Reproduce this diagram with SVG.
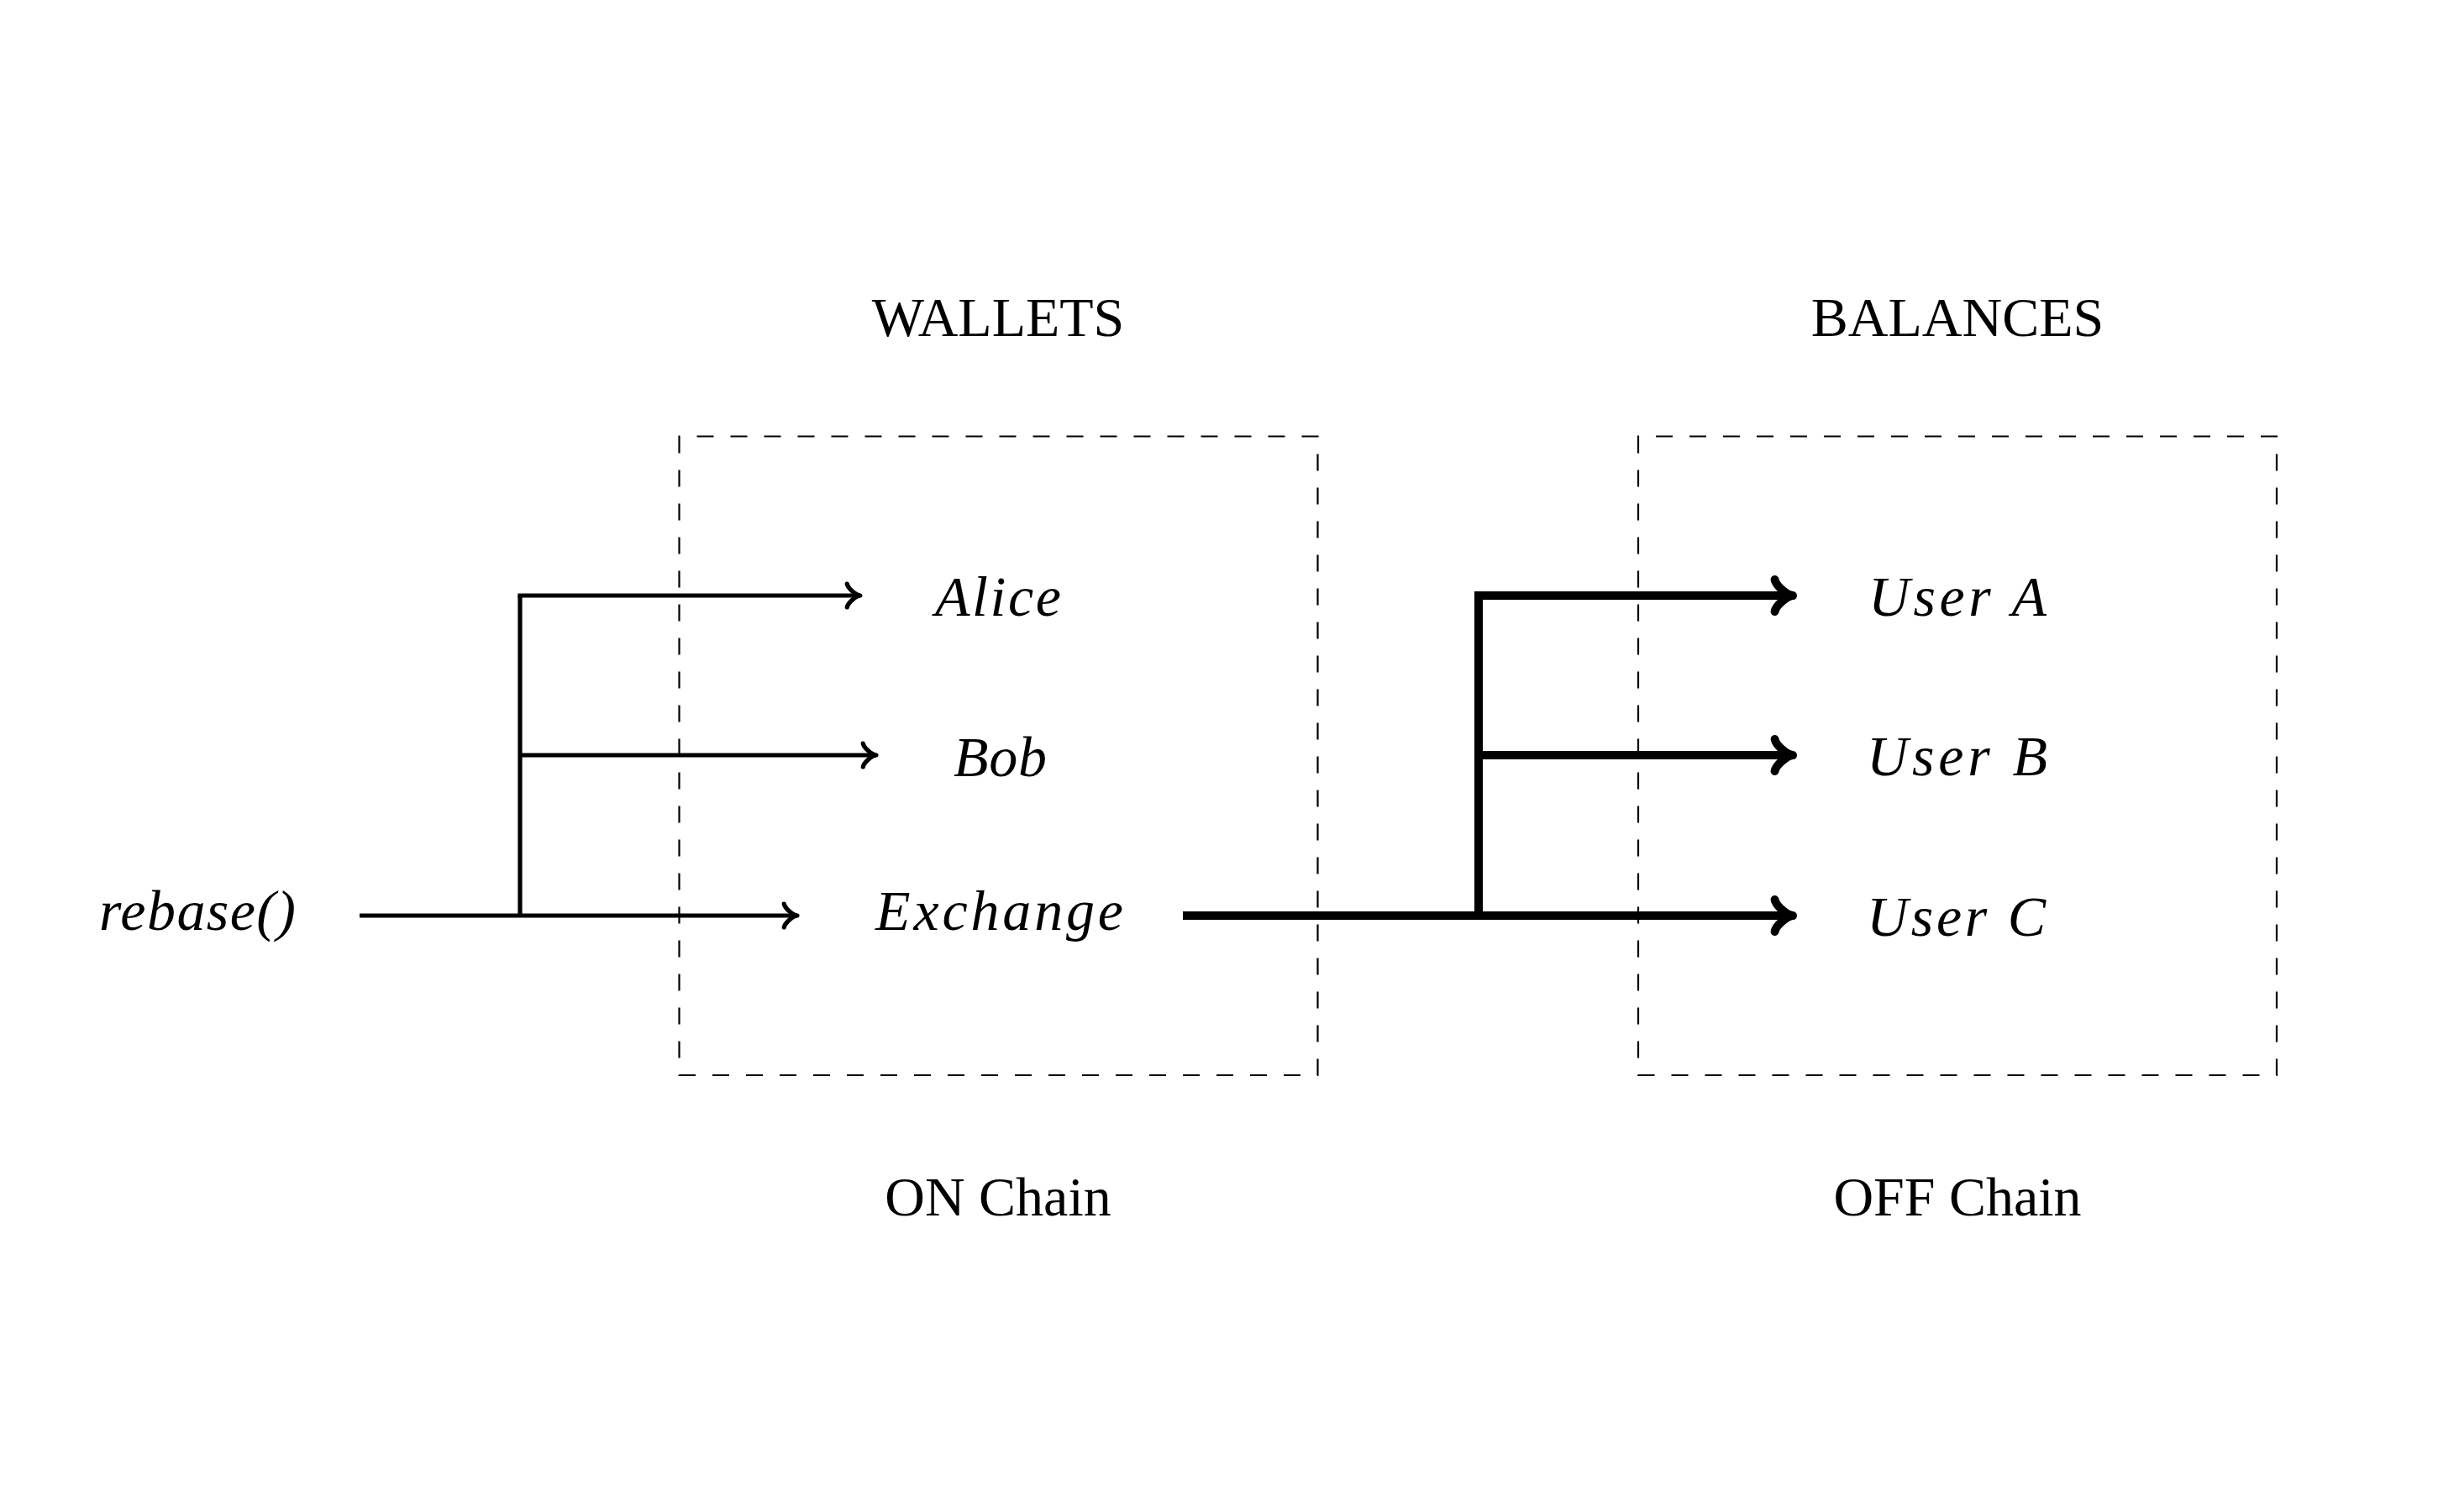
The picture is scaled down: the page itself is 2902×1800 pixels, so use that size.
<svg xmlns="http://www.w3.org/2000/svg" width="2902" height="1800" viewBox="0 0 2902 1800">
<style>
.bg{fill:#fff}
.box{fill:none;stroke:#000;stroke-width:2.2;stroke-dasharray:20 20}
.title{font-family:"Liberation Serif","Times New Roman",serif;font-size:66px;fill:#000;text-anchor:middle}
.math{font-family:"Liberation Serif","Times New Roman",serif;font-style:italic;font-size:68px;fill:#000}
.thin{fill:none;stroke:#000;stroke-width:5.2}
.thick{fill:none;stroke:#000;stroke-width:10}
</style>
<defs>
<marker id="arrThin" markerUnits="userSpaceOnUse" viewBox="-30 -30 40 60" markerWidth="40" markerHeight="60" refX="0" refY="0" orient="auto" overflow="visible">
<path d="M-15.75,-14 C-14.9,-8.75 -5.25,-0.44 0,0 C-5.25,0.44 -14.9,8.75 -15.75,14" fill="none" stroke="#000" stroke-width="5.2" stroke-linecap="round" stroke-linejoin="round"/>
</marker>
<marker id="arrThick" markerUnits="userSpaceOnUse" viewBox="-40 -40 50 80" markerWidth="50" markerHeight="80" refX="0" refY="0" orient="auto" overflow="visible">
<path d="M-21.4,-19 C-20.2,-11.9 -7.1,-0.6 0,0 C-7.1,0.6 -20.2,11.9 -21.4,19" fill="none" stroke="#000" stroke-width="10" stroke-linecap="round" stroke-linejoin="round"/>
</marker>
</defs>
<rect class="bg" x="0" y="0" width="2902" height="1800"/>

<g id="wallets">
<text class="title" x="1188" y="400">WALLETS</text>
<path class="box" d="M808.5,519.5 V1280 H1568.5 V519.5 Z"/>
<text class="title" x="1188" y="1447">ON Chain</text>
</g>
<g id="balances">
<text class="title" x="2330" y="400">BALANCES</text>
<path class="box" d="M1950,519.5 V1280 H2710 V519.5 Z"/>
<text class="title" x="2330" y="1447">OFF Chain</text>
</g>

<g id="rebase"><text class="math" x="118" y="1107" textLength="234" lengthAdjust="spacing">rebase()</text></g>
<g id="alice"><text class="math" x="1113" y="733" textLength="150" lengthAdjust="spacing">Alice</text></g>
<g id="bob"><text class="math" x="1135" y="924" textLength="111" lengthAdjust="spacing">Bob</text></g>
<g id="exchange"><text class="math" x="1042" y="1107" textLength="295" lengthAdjust="spacing">Exchange</text></g>
<g id="userA"><text class="math" x="2224" y="733" textLength="212" lengthAdjust="spacing">User A</text></g>
<g id="userB"><text class="math" x="2222" y="923" textLength="215" lengthAdjust="spacing">User B</text></g>
<g id="userC"><text class="math" x="2222" y="1114" textLength="213" lengthAdjust="spacing">User C</text></g>

<g id="connectors">
<path class="thin" d="M428,1090 H949" marker-end="url(#arrThin)"/>
<path class="thin" d="M619,1090 V709"/>
<path class="thin" d="M616.4,709 H1024" marker-end="url(#arrThin)"/>
<path class="thin" d="M619,899 H1043" marker-end="url(#arrThin)"/>
<path class="thick" d="M1408,1090 H2134" marker-end="url(#arrThick)"/>
<path class="thick" d="M1760,1090 V709"/>
<path class="thick" d="M1755,709 H2134" marker-end="url(#arrThick)"/>
<path class="thick" d="M1760,899 H2134" marker-end="url(#arrThick)"/>
</g>
</svg>
